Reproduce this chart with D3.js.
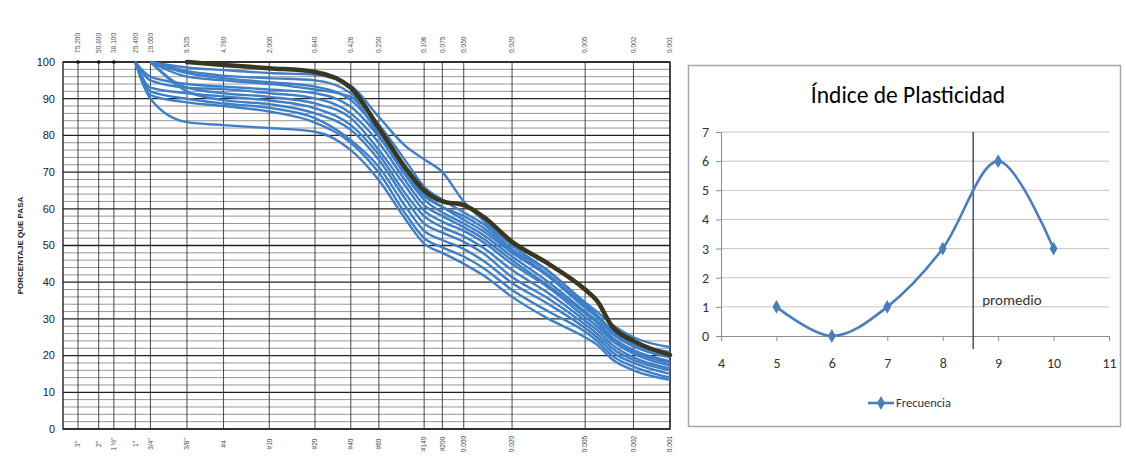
<!DOCTYPE html>
<html lang="es">
<head>
<meta charset="utf-8">
<style>
  body { margin: 0; background: #fff; }
  svg { display: block; }
</style>
</head>
<body>
<script src="https://d3js.org/d3.v7.min.js"></script>
<script>
// ---- curva granulométrica (izquierda) ----
const sieveSizes = [75.2, 50.8, 38.1, 25.4, 19.05, 9.525, 4.76, 2.0, 0.84, 0.426, 0.25, 0.106, 0.075, 0.05, 0.02, 0.005, 0.002, 0.001];
const topLabels = ["75.200", "50.800", "38.100", "25.400", "19.050", "9.525", "4.760", "2.000", "0.840", "0.426", "0.250", "0.106", "0.075", "0.050", "0.020", "0.005", "0.002", "0.001"];
const bottomLabels = ['3"', '2"', '1 ½"', '1"', '3/4"', '3/8"', '#4', '#10', '#20', '#40', '#60', '#140', '#200', '0.050', '0.020', '0.005', '0.002', '0.001'];
const dotSizes = [75.2, 50.8, 38.1];

// tamaños donde se leyeron las curvas (mm)
const sampleSizes = [25.4, 19.05, 9.525, 4.76, 2.0, 0.84, 0.426, 0.25, 0.15, 0.106, 0.075, 0.05, 0.035, 0.02, 0.01, 0.005, 0.004, 0.003, 0.002, 0.001];

const promedioCurve = [null, null, 100, 99.2, 98.3, 97.3, 93, 82, 71, 65, 62, 61, 58, 51, 45, 38, 35, 28, 24, 20.2];

const muestras = [
  [null, 100, 98.5, 97.8, 97, 96.5, 93.5, 85, 77, 73.5, 70, 62, 57, 50, 43, 34.5, 32, 28.5, 25, 22.3],
  [null, 100, 97.5, 96.3, 95.6, 95, 91.5, 83, 73, 66, 62.5, 59, 56, 49, 43, 34, 31, 27, 23.5, 21],
  [null, 100, 97, 95.6, 94.5, 93.3, 89.6, 81, 71, 64, 60.5, 57, 54, 48, 41.5, 33, 30.5, 26, 22.5, 19.5],
  [100, 96, 94, 93.3, 92.5, 91.5, 87.8, 79.6, 69, 62.5, 59, 56, 53, 47, 40, 32, 29.5, 25, 21.5, 18.5],
  [100, 95, 93, 92.6, 91.5, 90.1, 86, 78, 67.5, 61, 58, 55, 52, 46, 39, 31.5, 29, 24.5, 21, 18],
  [null, 100, 93, 91.5, 90.5, 88.7, 84.7, 76, 66, 59.5, 56.5, 54, 51, 45, 38.5, 30.5, 28, 24, 20.5, 17.3],
  [100, 93, 91.5, 90.6, 89.5, 87.4, 82.8, 74.7, 64, 58, 55, 52.5, 49.5, 43.3, 37, 29.5, 27, 23, 19.5, 16.5],
  [null, 100, 92, 89.6, 88.5, 86, 81.5, 73.3, 62.5, 56, 53.5, 51, 48, 41.4, 35.5, 28.5, 26, 22, 18.8, 16],
  [100, 92, 90, 88.7, 87.5, 84.7, 78.7, 71.4, 60.5, 54, 51.5, 49, 46, 39.8, 34, 27.5, 25, 21, 18, 15],
  [100, 91, 89, 88, 86.5, 83.5, 78, 69.8, 58.5, 52, 49.5, 47, 44, 37.9, 32, 26.5, 24, 20, 17, 14],
  [100, 90, 83.6, 82.8, 82, 81, 76, 67.8, 57, 50.5, 48, 45, 42, 36, 30, 25, 23, 19, 16, 13.4],
  [null, 100, 96, 95, 94, 92.5, 90.5, 80, 70, 63.5, 60.5, 58, 55, 48.5, 42, 33.5, 31, 26.5, 23, 20.5]
];

// ---- índice de plasticidad (derecha) ----
const ipValues = [5, 6, 7, 8, 9, 10];
const frecuencia = [1, 0, 1, 3, 6, 3];
const promedioIP = 8.55;

const W = 1126, H = 459;
const svg = d3.select("body").append("svg").attr("width", W).attr("height", H);

// ======== izquierda ========
const x = d3.scaleLog().domain([100, 0.001]).range([63, 670]);
const y = d3.scaleLinear().domain([0, 100]).range([429, 62]);

const grid = svg.append("g");
// líneas horizontales menores (cada 2 %) y mayores (cada 10 %)
grid.selectAll("line.minor")
  .data(d3.range(0, 101, 2).filter(d => d % 10 !== 0))
  .enter().append("line")
  .attr("x1", 63).attr("x2", 670)
  .attr("y1", d => y(d)).attr("y2", d => y(d))
  .attr("stroke", "#6a6a6a").attr("stroke-width", 0.7);
grid.selectAll("line.major")
  .data(d3.range(0, 101, 10))
  .enter().append("line")
  .attr("x1", 63).attr("x2", 670)
  .attr("y1", d => y(d)).attr("y2", d => y(d))
  .attr("stroke", "#222").attr("stroke-width", 1.3);
grid.selectAll("line.sieve")
  .data(sieveSizes)
  .enter().append("line")
  .attr("x1", d => x(d)).attr("x2", d => x(d))
  .attr("y1", y(100)).attr("y2", y(0))
  .attr("stroke", "#333").attr("stroke-width", 0.9);
grid.append("rect")
  .attr("x", 63).attr("y", y(100))
  .attr("width", 670 - 63).attr("height", y(0) - y(100))
  .attr("fill", "none").attr("stroke", "#222").attr("stroke-width", 1.4);

svg.selectAll("circle.dot")
  .data(dotSizes)
  .enter().append("circle")
  .attr("cx", d => x(d)).attr("cy", y(100)).attr("r", 1.8).attr("fill", "#111");

// etiquetas eje Y
svg.selectAll("text.ylab")
  .data(d3.range(0, 101, 10))
  .enter().append("text")
  .attr("x", 55).attr("y", d => y(d)).attr("dy", "0.35em")
  .attr("text-anchor", "end")
  .style("font-family", "Liberation Sans, Arial, sans-serif")
  .style("font-size", "11px").attr("fill", "#222")
  .text(d => d);

svg.append("text")
  .attr("transform", "translate(23," + y(50) + ") rotate(-90)")
  .attr("text-anchor", "middle")
  .style("font-family", "Liberation Sans, Arial, sans-serif")
  .style("font-size", "8px").style("font-weight", "bold").attr("fill", "#222")
  .text("PORCENTAJE QUE PASA");

// etiquetas superiores e inferiores
svg.selectAll("text.top")
  .data(sieveSizes)
  .enter().append("text")
  .attr("transform", d => "translate(" + (x(d) + 2.3) + ",53) rotate(-90)")
  .attr("text-anchor", "start")
  .style("font-family", "Liberation Sans, Arial, sans-serif")
  .style("font-size", "6.6px").attr("fill", "#555")
  .text((d, i) => topLabels[i]);

svg.selectAll("text.bottom")
  .data(sieveSizes)
  .enter().append("text")
  .attr("transform", d => "translate(" + (x(d) + 2.3) + ",444) rotate(-90)")
  .attr("text-anchor", "middle")
  .style("font-family", "Liberation Sans, Arial, sans-serif")
  .style("font-size", "6.6px").attr("fill", "#444")
  .text((d, i) => bottomLabels[i]);

// curvas
const gLine = d3.line()
  .defined(d => d[1] != null)
  .x(d => x(d[0])).y(d => y(d[1]))
  .curve(d3.curveMonotoneX);

svg.selectAll("path.muestra")
  .data(muestras)
  .enter().append("path")
  .attr("d", vals => gLine(sampleSizes.map((s, i) => [s, vals[i]])))
  .attr("fill", "none").attr("stroke", "#3f7fc6")
  .attr("stroke-width", 2.4).attr("stroke-linejoin", "round");

svg.append("path")
  .attr("d", gLine(sampleSizes.map((s, i) => [s, promedioCurve[i]])))
  .attr("fill", "none").attr("stroke", "#3a3621")
  .attr("stroke-width", 4.5).attr("stroke-linecap", "round");

// ======== derecha ========
const font2 = "Carlito, Lato, 'Open Sans', sans-serif";
svg.append("rect")
  .attr("x", 688.5).attr("y", 65.5).attr("width", 432).attr("height", 361)
  .attr("fill", "#fff").attr("stroke", "#a6a6a6").attr("stroke-width", 1.5);

const x2 = d3.scaleLinear().domain([4, 11]).range([721, 1109]);
const y2 = d3.scaleLinear().domain([0, 7]).range([336, 132]);

svg.append("text")
  .attr("x", 908).attr("y", 103)
  .attr("text-anchor", "middle")
  .style("font-family", font2).style("font-size", "23.5px").attr("fill", "#000")
  .text("Índice de Plasticidad");

svg.selectAll("line.hgrid")
  .data(d3.range(1, 8))
  .enter().append("line")
  .attr("x1", x2(4)).attr("x2", x2(11))
  .attr("y1", d => y2(d)).attr("y2", d => y2(d))
  .attr("stroke", "#c4c4c4").attr("stroke-width", 1);

const yAx = svg.append("g").attr("transform", "translate(" + x2(4) + ",0)")
  .call(d3.axisLeft(y2).ticks(7).tickSize(5).tickPadding(7));
const xAx = svg.append("g").attr("transform", "translate(0," + y2(0) + ")")
  .call(d3.axisBottom(x2).ticks(7).tickSize(5).tickPadding(17));
[yAx, xAx].forEach(a => {
  a.select(".domain").attr("stroke", "#8c8c8c");
  a.selectAll(".tick line").attr("stroke", "#8c8c8c");
  a.selectAll("text").style("font-family", font2).style("font-size", "14px").attr("fill", "#333");
});

// línea del promedio
svg.append("line")
  .attr("x1", x2(promedioIP)).attr("x2", x2(promedioIP))
  .attr("y1", y2(7)).attr("y2", y2(0) + 13)
  .attr("stroke", "#2f3a55").attr("stroke-width", 1.3);
svg.append("text")
  .attr("x", x2(promedioIP) + 9).attr("y", y2(1) - 2)
  .style("font-family", font2).style("font-size", "15px").attr("fill", "#333")
  .text("promedio");

const freqLine = d3.line()
  .x((d, i) => x2(ipValues[i])).y(d => y2(d))
  .curve(d3.curveCardinal.tension(0));
svg.append("path")
  .attr("d", freqLine(frecuencia))
  .attr("fill", "none").attr("stroke", "#4a7ebb").attr("stroke-width", 2.6);

const diamond = d3.symbol().type(d3.symbolDiamond).size(55);
svg.selectAll("path.mk")
  .data(frecuencia)
  .enter().append("path")
  .attr("d", diamond)
  .attr("transform", (d, i) => "translate(" + x2(ipValues[i]) + "," + y2(d) + ")")
  .attr("fill", "#4a7ebb");

// leyenda
svg.append("line")
  .attr("x1", 868).attr("x2", 894).attr("y1", 403).attr("y2", 403)
  .attr("stroke", "#4a7ebb").attr("stroke-width", 2.6);
svg.append("path").attr("d", diamond).attr("transform", "translate(881,403)").attr("fill", "#4a7ebb");
svg.append("text")
  .attr("x", 896).attr("y", 403).attr("dy", "0.35em")
  .style("font-family", font2).style("font-size", "12.5px").attr("fill", "#333")
  .text("Frecuencia");
</script>
</body>
</html>
